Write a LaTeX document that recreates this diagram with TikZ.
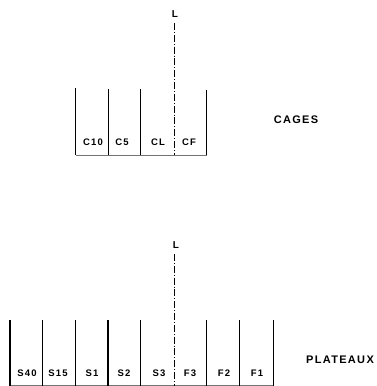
\documentclass[tikz,border=0pt]{standalone}
\usepackage{fontspec}
\setmainfont{Liberation Sans}
\newfontfamily\stencil[LetterSpace=12]{Liberation Sans}
\begin{document}
\begin{tikzpicture}[x=1pt,y=-1pt,
  wall/.style={line width=1.1pt},
  axisline/.style={line width=0.8pt, dash pattern=on 7pt off 2pt on 0.8pt off 2pt},
  baseline/.style={line width=0.5pt, black!55},
  cell/.style={font=\stencil\fontsize{9.5}{9.5}\selectfont\bfseries, inner sep=0pt, anchor=center},
  axislabel/.style={font=\bfseries\fontsize{10}{10}\selectfont, inner sep=0pt},
  title/.style={font=\stencil\fontsize{11}{11}\selectfont\bfseries, inner sep=0pt}]
\useasboundingbox (0,0) rectangle (377,386);

% ---- cages ----
\coordinate (cbl) at (75.7,155);
\coordinate (cbr) at (206.7,155);
\draw[baseline] (cbl) -- (cbr);
\foreach \x/\t in {75.7/88, 108.3/89, 140.7/89, 206.7/90}
  \draw[wall] (\x,\t) -- (\x,155);
\node[axislabel] (cL) at (175,14) {L};
\coordinate (cLtop) at (174.2,23);
\coordinate (cLbot) at (174.2,155);
\draw[axisline] (cLtop) -- (cLbot);
\node[cell] (c10) at (93,142) {C10};
\node[cell] (c5)  at (122,142) {C5};
\node[cell] (ccl) at (158,142) {CL};
\node[cell] (ccf) at (189,142) {CF};
\node[title] (cages) at (296,120) {CAGES};

% ---- plateaux ----
\coordinate (pbl) at (10,385);
\coordinate (pbr) at (273.3,385);
\draw[baseline] (pbl) -- (pbr);
\foreach \x in {10,42.6,75.3,108,140.7,206.7,239.3,273.3}
  \draw[wall] (\x,320) -- (\x,386);
\node[axislabel] (pL) at (176,245) {L};
\coordinate (pLtop) at (174,254);
\coordinate (pLbot) at (174,386);
\draw[axisline] (pLtop) -- (pLbot);
\node[cell] (s40) at (27,373) {S40};
\node[cell] (s15) at (58,373) {S15};
\node[cell] (s1)  at (92,373) {S1};
\node[cell] (s2)  at (124,373) {S2};
\node[cell] (s3)  at (159,373) {S3};
\node[cell] (f3)  at (190,373) {F3};
\node[cell] (f2)  at (224,373) {F2};
\node[cell] (f1)  at (257,373) {F1};
\node[title] (plateaux) at (340,360) {PLATEAUX};
\end{tikzpicture}
\end{document}
